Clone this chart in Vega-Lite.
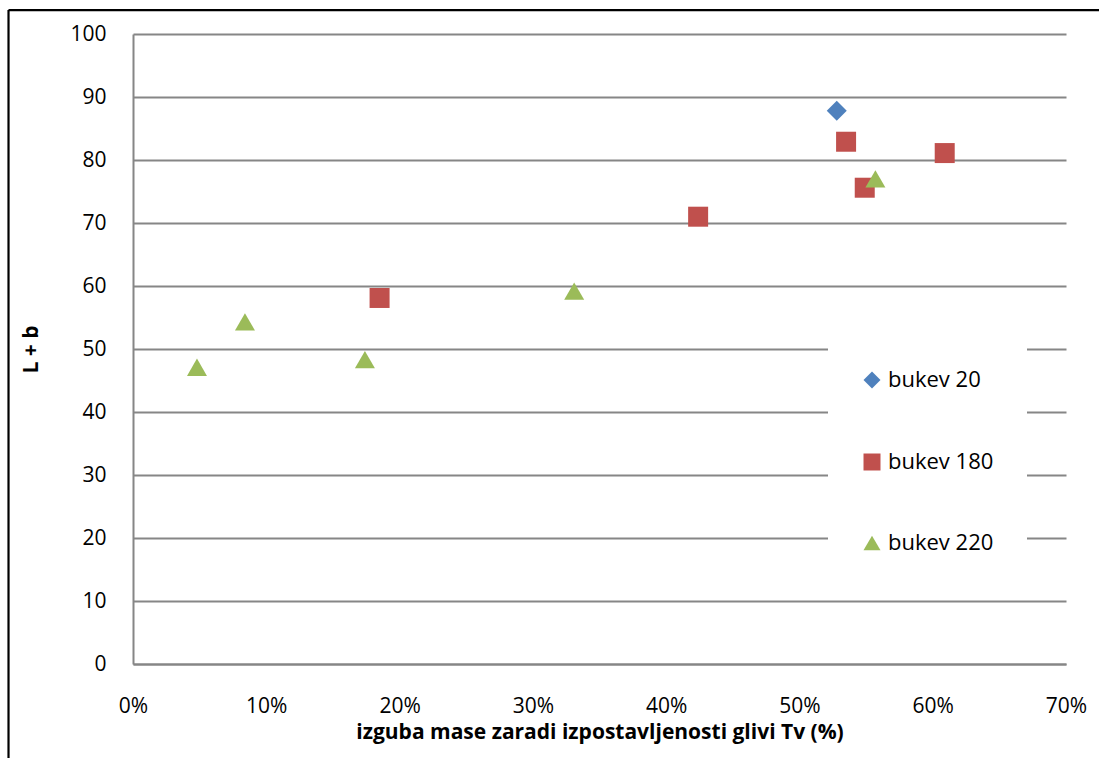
{
  "$schema": "https://vega.github.io/schema/vega-lite/v6.json",
  "width": 933,
  "height": 630,
  "autosize": {"type": "none"},
  "padding": {"left": 133, "top": 34, "right": 33, "bottom": 94},
  "background": "white",
  "config": {
    "font": "Open Sans",
    "view": {"stroke": null},
    "axis": {"labelFont": "Open Sans", "titleFont": "Open Sans", "labelColor": "black", "titleColor": "black"}
  },
  "datasets": {
    "meritve": [
      {"serija": "bukev 20", "izguba": 0.528, "Lb": 87.8},
      {"serija": "bukev 180", "izguba": 0.535, "Lb": 82.9},
      {"serija": "bukev 180", "izguba": 0.609, "Lb": 81.1},
      {"serija": "bukev 180", "izguba": 0.549, "Lb": 75.6},
      {"serija": "bukev 180", "izguba": 0.424, "Lb": 71.0},
      {"serija": "bukev 180", "izguba": 0.185, "Lb": 58.1},
      {"serija": "bukev 220", "izguba": 0.557, "Lb": 77.0},
      {"serija": "bukev 220", "izguba": 0.331, "Lb": 59.2},
      {"serija": "bukev 220", "izguba": 0.084, "Lb": 54.3},
      {"serija": "bukev 220", "izguba": 0.174, "Lb": 48.3},
      {"serija": "bukev 220", "izguba": 0.048, "Lb": 47.1}
    ],
    "okvir": [
      {"x1": -0.0934, "x2": -0.0934, "y1": 103.8, "y2": -15},
      {"x1": -0.0934, "x2": 0.73, "y1": 103.8, "y2": 103.8}
    ]
  },
  "layer": [
    {
      "data": {"name": "okvir"},
      "mark": {"type": "rule", "color": "black", "strokeWidth": 2.2, "clip": false},
      "encoding": {
        "x": {"field": "x1", "type": "quantitative"},
        "x2": {"field": "x2"},
        "y": {"field": "y1", "type": "quantitative"},
        "y2": {"field": "y2"}
      }
    },
    {
      "data": {"name": "meritve"},
      "mark": {"type": "point", "filled": true, "opacity": 1, "size": 400},
      "encoding": {
        "x": {
          "field": "izguba",
          "type": "quantitative",
          "scale": {"domain": [0, 0.7], "nice": false},
          "axis": {
            "values": [0, 0.1, 0.2, 0.3, 0.4, 0.5, 0.6, 0.7],
            "format": ".0%",
            "grid": false,
            "ticks": false,
            "labelFlush": false,
            "domainColor": "#868686",
            "domainWidth": 2,
            "labelFontSize": 21,
            "labelPadding": 31,
            "title": "izguba mase zaradi izpostavljenosti glivi Tv (%)",
            "titleFontSize": 21,
            "titleFontWeight": "bold",
            "titlePadding": 5
          }
        },
        "y": {
          "field": "Lb",
          "type": "quantitative",
          "scale": {"domain": [0, 100], "nice": false},
          "axis": {
            "values": [0, 10, 20, 30, 40, 50, 60, 70, 80, 90, 100],
            "grid": true,
            "gridColor": "#868686",
            "gridWidth": 2,
            "ticks": false,
            "domainColor": "#868686",
            "domainWidth": 2,
            "labelFontSize": 21,
            "labelPadding": 27,
            "title": "L + b",
            "titleFontSize": 21,
            "titleFontWeight": "bold",
            "titlePadding": 28
          }
        },
        "color": {
          "field": "serija",
          "type": "nominal",
          "scale": {"domain": ["bukev 20", "bukev 180", "bukev 220"], "range": ["#4F81BD", "#C0504D", "#9BBB59"]},
          "legend": {
            "title": null,
            "orient": "none",
            "legendX": 695,
            "legendY": 302,
            "padding": 33,
            "fillColor": "white",
            "labelFont": "Open Sans",
            "labelFontSize": 22,
            "labelColor": "black",
            "symbolSize": 289,
            "symbolOpacity": 1,
            "rowPadding": 58,
            "labelOffset": 5
          }
        },
        "shape": {
          "field": "serija",
          "type": "nominal",
          "scale": {"domain": ["bukev 20", "bukev 180", "bukev 220"], "range": ["diamond", "square", "triangle-up"]}
        }
      }
    }
  ]
}
